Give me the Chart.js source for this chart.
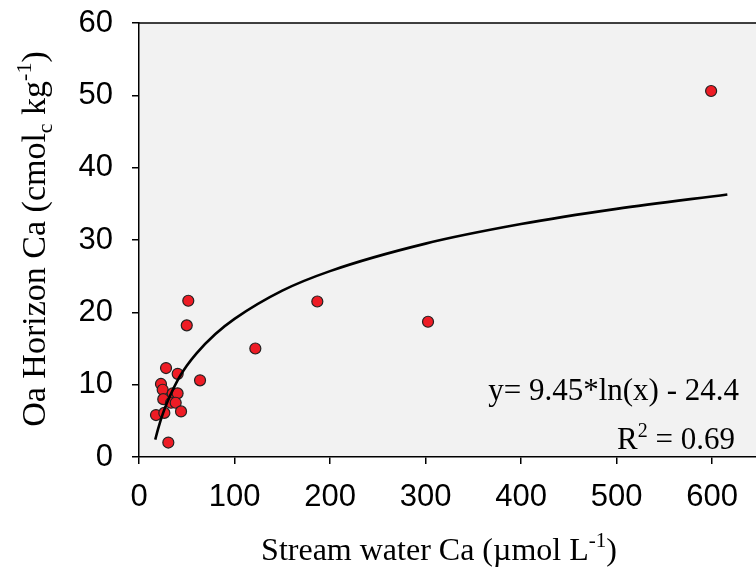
<!DOCTYPE html>
<html>
<head>
<meta charset="utf-8">
<script src="https://cdn.jsdelivr.net/npm/chart.js@4.4.0/dist/chart.umd.min.js"></script>
<style>
  body { margin: 0; background: #fff; }
</style>
</head>
<body>
<canvas id="grafico" width="756" height="579"></canvas>
<script>
// pontos
const streamCa = [51.6, 50, 186.7, 302.6, 599, 121.8, 28.3, 40.5, 63.9, 23, 24.8, 35.3, 40.4, 25.4, 33.5, 38.4, 44, 17.8, 26.5, 30.7]
const oaCa = [21.6, 18.2, 21.5, 18.7, 50.6, 15.0, 12.3, 11.5, 10.6, 10.1, 9.3, 8.8, 8.8, 8.0, 7.5, 7.5, 6.3, 5.8, 6.1, 2.0]

// curva de ajuste
const fitX = [17, 20, 25, 30, 40, 50, 60, 80, 100, 150, 200, 300, 400, 500, 616]
const fitY = [2.4, 3.9, 6.0, 7.7, 10.5, 12.6, 14.3, 17.0, 19.1, 23.0, 25.7, 29.5, 32.2, 34.3, 36.3]

const xTicks = [0, 100, 200, 300, 400, 500, 600]
const yTicks = [0, 10, 20, 30, 40, 50, 60]

const serif = "'Liberation Serif', 'Times New Roman', serif"

function textoRico(ctx, partes, x, y, tam, alinhamento) {
    let largura = 0
    partes.forEach(p => {
        ctx.font = `${p.sup || p.sub ? Math.round(tam * 0.65) : tam}px ${serif}`
        p.w = ctx.measureText(p.t).width
        largura += p.w
    })
    let cx = alinhamento === 'center' ? x - largura / 2 : alinhamento === 'right' ? x - largura : x
    partes.forEach(p => {
        ctx.font = `${p.sup || p.sub ? Math.round(tam * 0.65) : tam}px ${serif}`
        const dy = p.sup ? -tam * 0.4 : p.sub ? tam * 0.22 : 0
        ctx.fillText(p.t, cx, y + dy)
        cx += p.w
    })
}

const extras = {
    id: 'extras',
    beforeDraw(chart) {
        const { ctx, chartArea: a } = chart
        ctx.save()
        ctx.fillStyle = '#f2f2f2'
        ctx.fillRect(a.left, a.top, a.right - a.left, a.bottom - a.top)
        ctx.restore()
    },
    afterDraw(chart) {
        const { ctx, chartArea: a } = chart
        ctx.save()
        ctx.strokeStyle = '#000'
        ctx.lineWidth = 1.5
        ctx.beginPath()
        ctx.moveTo(a.left, a.top)
        ctx.lineTo(a.right, a.top)
        ctx.stroke()

        ctx.fillStyle = '#000'
        ctx.textBaseline = 'alphabetic'
        textoRico(ctx, [{ t: 'Stream water Ca (µmol L' }, { t: '-1', sup: true }, { t: ')' }], 439, 560, 32, 'center')

        ctx.save()
        ctx.translate(45, 239)
        ctx.rotate(-Math.PI / 2)
        textoRico(ctx, [{ t: 'Oa Horizon Ca (cmol' }, { t: 'c', sub: true }, { t: ' kg' }, { t: '-1', sup: true }, { t: ')' }], 0, 0, 34, 'center')
        ctx.restore()

        textoRico(ctx, [{ t: 'y= 9.45*ln(x) - 24.4' }], 739, 400, 31, 'right')
        textoRico(ctx, [{ t: 'R' }, { t: '2', sup: true }, { t: ' = 0.69' }], 735, 449, 31, 'right')
        ctx.restore()
    }
}

const pontos = streamCa.map((x, i) => ({ x: x, y: oaCa[i] }))
const curva = fitX.map((x, i) => ({ x: x, y: fitY[i] }))

Chart.defaults.font.family = "'Liberation Sans', Arial, sans-serif"
Chart.defaults.color = '#000'

new Chart(document.getElementById('grafico'), {
    type: 'scatter',
    data: {
        datasets: [{
            type: 'line',
            data: curva,
            borderColor: '#000',
            borderWidth: 2.6,
            pointRadius: 0,
            tension: 0.3,
            cubicInterpolationMode: 'monotone',
            fill: false,
            order: 0
        }, {
            data: pontos,
            backgroundColor: '#ee1c25',
            borderColor: '#222',
            borderWidth: 1.2,
            pointRadius: 5.5,
            order: 1
        }]
    },
    options: {
        responsive: false,
        animation: false,
        devicePixelRatio: 1,
        layout: { autoPadding: false, padding: { top: 23, right: 0, left: 0, bottom: 0 } },
        plugins: { legend: { display: false }, tooltip: { enabled: false } },
        scales: {
            x: {
                type: 'linear',
                min: 0,
                max: 646,
                afterBuildTicks: scale => { scale.ticks = xTicks.map(v => ({ value: v })) },
                afterFit: scale => {
                    scale.height = 122
                    scale.paddingLeft = 0
                    scale.paddingRight = 0
                },
                grid: { drawOnChartArea: false, drawTicks: true, tickLength: 7, color: '#000', lineWidth: 1.5 },
                border: { color: '#000', width: 1.5 },
                ticks: { font: { size: 31 }, padding: 15, maxRotation: 0 }
            },
            y: {
                min: 0,
                max: 60,
                afterBuildTicks: scale => { scale.ticks = yTicks.map(v => ({ value: v })) },
                afterFit: scale => {
                    scale.width = 139
                    scale.paddingTop = 0
                    scale.paddingBottom = 0
                },
                grid: { drawOnChartArea: false, drawTicks: true, tickLength: 7, color: '#000', lineWidth: 1.5 },
                border: { color: '#000', width: 1.5 },
                ticks: { font: { size: 31 }, padding: 19 }
            }
        }
    },
    plugins: [extras]
})
</script>
</body>
</html>
